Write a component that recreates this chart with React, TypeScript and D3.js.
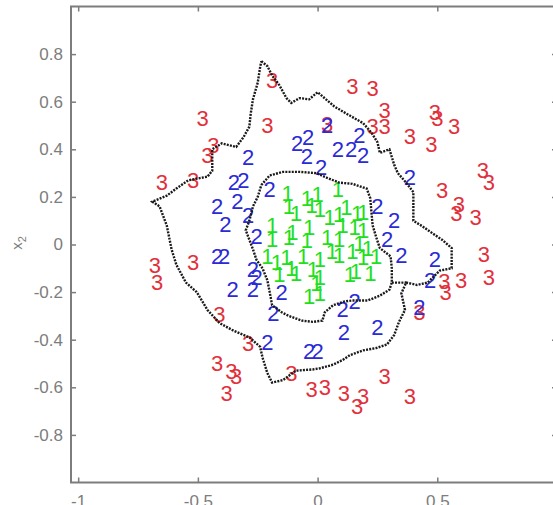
import React, { useEffect, useRef } from 'react';
import * as d3 from 'd3';

// class labels drawn as text markers, [x1, x2]
const class3: [number, number][] = [
  [-0.19, 0.69], [-0.48, 0.53], [-0.21, 0.5], [-0.435, 0.415], [-0.46, 0.375],
  [-0.65, 0.26], [-0.52, 0.27], [-0.52, -0.075], [-0.68, -0.09], [-0.67, -0.16],
  [-0.41, -0.295], [-0.29, -0.415], [-0.42, -0.5], [-0.36, -0.535], [-0.34, -0.555],
  [-0.38, -0.625], [-0.11, -0.54], [-0.025, -0.61], [0.03, -0.6], [0.11, -0.625],
  [0.19, -0.64], [0.165, -0.68], [0.28, -0.555], [0.385, -0.64], [0.425, -0.285],
  [0.53, -0.155], [0.535, -0.2], [0.6, -0.15], [0.715, -0.14], [0.695, -0.04],
  [0.59, 0.17], [0.58, 0.13], [0.66, 0.115], [0.52, 0.225], [0.69, 0.31],
  [0.715, 0.26], [0.475, 0.42], [0.385, 0.455], [0.57, 0.495], [0.49, 0.555],
  [0.5, 0.53], [0.28, 0.565], [0.23, 0.495], [0.28, 0.495], [0.145, 0.665],
  [0.23, 0.655], [0.04, 0.505],
];

const class2: [number, number][] = [
  [-0.29, 0.365], [-0.35, 0.26], [-0.31, 0.27], [-0.2, 0.23], [-0.42, 0.16],
  [-0.335, 0.18], [-0.29, 0.12], [-0.385, 0.085], [-0.255, 0.035], [-0.42, -0.05],
  [-0.39, -0.05], [-0.27, -0.105], [-0.255, -0.14], [-0.355, -0.19], [-0.27, -0.19],
  [-0.15, -0.2], [-0.185, -0.29], [-0.21, -0.41], [-0.035, -0.45], [0, -0.45],
  [0.105, -0.275], [0.155, -0.24], [0.11, -0.37], [0.25, -0.35], [0.425, -0.265],
  [0.47, -0.15], [0.49, -0.065], [0.35, -0.045], [0.29, 0.02], [0.32, 0.1],
  [0.25, 0.16], [0.385, 0.28], [-0.085, 0.425], [-0.04, 0.45], [-0.045, 0.37],
  [0.015, 0.325], [0.085, 0.4], [0.14, 0.4], [0.175, 0.46], [0.19, 0.375],
  [0.04, 0.5],
];

const class1: [number, number][] = [
  [-0.125, 0.215], [-0.045, 0.195], [0, 0.21], [0.085, 0.23], [-0.12, 0.16],
  [-0.09, 0.13], [-0.025, 0.165], [0.01, 0.145], [0.05, 0.115], [0.09, 0.125],
  [0.12, 0.155], [0.165, 0.13], [0.19, 0.135], [-0.19, 0.08], [-0.105, 0.05],
  [-0.035, 0.07], [0.105, 0.08], [0.155, 0.07], [0.19, 0.06], [-0.19, 0.02],
  [-0.12, 0.03], [-0.045, 0.015], [0.04, 0.03], [0.09, 0.02], [0.175, 0.005],
  [0.21, -0.015], [-0.21, -0.05], [-0.17, -0.075], [-0.13, -0.055], [-0.06, -0.05],
  [0.01, -0.065], [0.06, -0.03], [0.09, -0.045], [0.145, -0.03], [0.19, -0.055],
  [0.245, -0.05], [-0.16, -0.125], [-0.11, -0.1], [-0.09, -0.12], [-0.02, -0.105],
  [0.01, -0.14], [0.135, -0.125], [0.16, -0.115], [0.22, -0.12], [-0.005, -0.165],
  [0.01, -0.205], [-0.035, -0.22],
];

// decision boundaries
const outerBoundary: [number, number][] = [
  [-0.235, 0.77], [-0.21, 0.75], [-0.19, 0.71], [-0.16, 0.67], [-0.13, 0.615],
  [-0.11, 0.595], [-0.075, 0.615], [-0.035, 0.61], [0, 0.64], [0.035, 0.61],
  [0.07, 0.58], [0.12, 0.55], [0.19, 0.51], [0.225, 0.47], [0.25, 0.43],
  [0.26, 0.385], [0.3, 0.4], [0.32, 0.335], [0.335, 0.3], [0.37, 0.26],
  [0.4, 0.22], [0.4, 0.145], [0.4, 0.1], [0.44, 0.075], [0.49, 0.04],
  [0.52, 0.02], [0.56, -0.015], [0.56, -0.1], [0.51, -0.11], [0.46, -0.16],
  [0.415, -0.17], [0.37, -0.16], [0.35, -0.205], [0.365, -0.275], [0.34, -0.325],
  [0.32, -0.38], [0.29, -0.42], [0.245, -0.435], [0.19, -0.445], [0.135, -0.465],
  [0.105, -0.485], [0.065, -0.505], [0.01, -0.52], [-0.02, -0.525], [-0.09, -0.53],
  [-0.145, -0.57], [-0.19, -0.58], [-0.21, -0.54], [-0.23, -0.475], [-0.24, -0.43],
  [-0.285, -0.39], [-0.355, -0.36], [-0.41, -0.33], [-0.46, -0.275], [-0.505, -0.2],
  [-0.55, -0.16], [-0.59, -0.085], [-0.61, -0.02], [-0.63, 0.08], [-0.66, 0.16],
  [-0.69, 0.18], [-0.63, 0.205], [-0.59, 0.235], [-0.54, 0.27], [-0.46, 0.285],
  [-0.44, 0.31], [-0.44, 0.4], [-0.4, 0.425], [-0.34, 0.41], [-0.31, 0.45],
  [-0.285, 0.495], [-0.28, 0.545], [-0.27, 0.61], [-0.25, 0.68], [-0.24, 0.745],
];

const innerBoundary: [number, number][] = [
  [-0.235, 0.25], [-0.2, 0.29], [-0.145, 0.305], [-0.075, 0.305], [-0.005, 0.3],
  [0.04, 0.28], [0.09, 0.26], [0.145, 0.255], [0.205, 0.235], [0.22, 0.195],
  [0.225, 0.135], [0.23, 0.08], [0.245, 0.03], [0.26, -0.015], [0.305, -0.05],
  [0.31, -0.1], [0.31, -0.16], [0.3, -0.19], [0.26, -0.215], [0.21, -0.235],
  [0.145, -0.235], [0.11, -0.24], [0.065, -0.255], [0.03, -0.285], [0.02, -0.32],
  [-0.02, -0.325], [-0.065, -0.32], [-0.12, -0.3], [-0.15, -0.285], [-0.19, -0.255],
  [-0.2, -0.2], [-0.21, -0.15], [-0.23, -0.1], [-0.255, -0.065], [-0.27, -0.02],
  [-0.285, 0.02], [-0.3, 0.06], [-0.285, 0.1], [-0.27, 0.16], [-0.25, 0.2],
];

const innerBranch: [number, number][] = [[0.31, -0.16], [0.37, -0.16]];

const xTicks = [-1, -0.5, 0, 0.5, 1];
const yTicks = [-0.8, -0.6, -0.4, -0.2, 0, 0.2, 0.4, 0.6, 0.8];

const App = () => {
  const chartRef = useRef<SVGSVGElement>(null);

  useEffect(() => {
    drawChart();
  }, []);

  const drawChart = () => {
    const width = 553;
    const height = 505;
    const left = 71, right = 557, top = 6.5, bottom = 482.5;

    const svg = d3.select(chartRef.current);
    svg.selectAll('*').remove();
    svg.attr('width', width).attr('height', height);

    svg.append('rect').attr('width', width).attr('height', height).attr('fill', '#fff');

    const x = d3.scaleLinear().domain([-1.03, 1.0]).range([left, right]);
    const y = d3.scaleLinear().domain([-1, 1]).range([bottom, top]);

    const axisColor = '#7d7d7d';
    const fmt = (d: d3.NumberValue) => String(d);

    const styleAxis = (g: d3.Selection<SVGGElement, unknown, null, undefined>) => {
      g.attr('color', axisColor)
        .attr('font-family', '"Liberation Sans", Arial, sans-serif')
        .attr('font-size', 17);
      g.select('.domain').remove();
      g.selectAll('.tick line').attr('stroke-width', 1.5);
    };

    svg.append('g')
      .attr('transform', `translate(${left},0)`)
      .call(d3.axisLeft(y).tickValues(yTicks).tickSize(-5).tickPadding(8).tickFormat(fmt))
      .call(styleAxis);

    svg.append('g')
      .attr('transform', `translate(${right},0)`)
      .call(d3.axisRight(y).tickValues(yTicks).tickSize(-5).tickFormat(() => ''))
      .call(styleAxis);

    svg.append('g')
      .attr('transform', `translate(0,${bottom})`)
      .call(d3.axisBottom(x).tickValues(xTicks).tickSize(-5).tickPadding(12).tickFormat(fmt))
      .call(styleAxis);

    svg.append('g')
      .attr('transform', `translate(0,${top})`)
      .call(d3.axisTop(x).tickValues(xTicks).tickSize(-5).tickFormat(() => ''))
      .call(styleAxis);

    svg.append('rect')
      .attr('x', left).attr('y', top)
      .attr('width', right - left).attr('height', bottom - top)
      .attr('fill', 'none')
      .attr('stroke', axisColor)
      .attr('stroke-width', 2);

    // y label x_2
    const yl = svg.append('text')
      .attr('transform', `translate(22,243) rotate(-90)`)
      .attr('text-anchor', 'middle')
      .attr('fill', axisColor)
      .attr('font-family', '"Liberation Sans", Arial, sans-serif')
      .attr('font-size', 15);
    yl.append('tspan').text('x');
    yl.append('tspan').attr('font-size', 11).attr('dy', 4).text('2');

    const plot = svg.append('g');

    const drawClass = (data: [number, number][], label: string, color: string) => {
      plot.append('g')
        .selectAll('text')
        .data(data)
        .enter()
        .append('text')
        .attr('x', d => x(d[0]))
        .attr('y', d => y(d[1]))
        .attr('text-anchor', 'middle')
        .attr('dominant-baseline', 'central')
        .attr('font-family', '"Liberation Sans", Arial, sans-serif')
        .attr('font-size', 22)
        .attr('fill', color)
        .text(label);
    };

    drawClass(class3, '3', '#e2303b');
    drawClass(class2, '2', '#2a2ad6');
    drawClass(class1, '1', '#1ee01e');

    const line = d3.line<[number, number]>()
      .x(d => x(d[0]))
      .y(d => y(d[1]));

    [outerBoundary, innerBoundary].forEach(b => {
      plot.append('path')
        .datum([...b, b[0]])
        .attr('fill', 'none')
        .attr('stroke', '#1a1a1a')
        .attr('stroke-width', 2.4)
        .attr('stroke-dasharray', '2 1.2')
        .attr('d', line);
    });

    plot.append('path')
      .datum(innerBranch)
      .attr('fill', 'none')
      .attr('stroke', '#1a1a1a')
      .attr('stroke-width', 2.4)
      .attr('stroke-dasharray', '2 1.2')
      .attr('d', line);
  };

  return (
    <svg ref={chartRef} style={{ position: 'absolute', left: 0, top: 0 }}></svg>
  );
};

export default App;
